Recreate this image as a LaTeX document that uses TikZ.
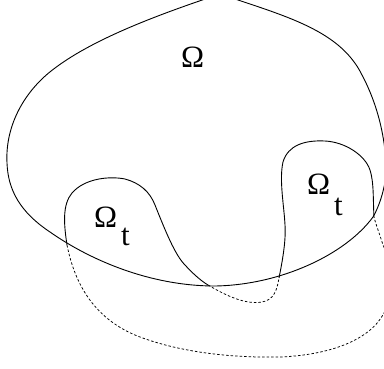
\documentclass[tikz,border=0pt]{standalone}
\usepackage{fontspec}
\newfontfamily\lab{Liberation Serif}
\tikzset{
  curve/.style={line width=0.9pt, line join=round},
  hidden/.style={line width=0.75pt, dash pattern=on 2.5pt off 2pt},
  lbl/.style={inner sep=0pt, anchor=base west, font=\lab\fontsize{31}{35}\selectfont}
}
\begin{document}
\begin{tikzpicture}[x=1pt,y=-1pt]
\useasboundingbox (0,0) rectangle (384,368);
\clip (0,0) rectangle (384,368);
% outer domain
\draw[curve] (7,163) .. controls (5,125) and (25,90) .. (55,68)
  .. controls (95,38) and (160,14) .. (220,-6)
  .. controls (285,16) and (340,30) .. (362,75)
  .. controls (378,105) and (386,140) .. (386,170)
  .. controls (386,185) and (380,205) .. (373,217)
  .. controls (345,255) and (280,285) .. (215,286)
  .. controls (150,286) and (90,260) .. (50,232)
  .. controls (20,212) and (8,190) .. (7,163);
% left Omega_t solid part
\draw[curve] (67,245) .. controls (64,225) and (62,205) .. (72,193)
  .. controls (85,178) and (110,176) .. (125,179)
  .. controls (140,183) and (150,192) .. (155,205)
  .. controls (165,230) and (175,255) .. (185,265)
  .. controls (195,276) and (203,282) .. (208,285);
% right Omega_t solid part
\draw[curve] (279,278) .. controls (283,258) and (286,240) .. (285,225)
  .. controls (284,205) and (279,180) .. (283,162)
  .. controls (288,145) and (305,140) .. (325,141)
  .. controls (345,142) and (365,155) .. (370,170)
  .. controls (374,182) and (373,200) .. (374,217);
% dashed parts outside
\draw[hidden] (208,285) .. controls (225,295) and (245,305) .. (262,302)
  .. controls (274,300) and (277,290) .. (279,278);
\draw[hidden] (67,245) .. controls (75,285) and (95,320) .. (140,337)
  .. controls (180,352) and (230,358) .. (280,357)
  .. controls (330,355) and (370,340) .. (384,313)
  .. controls (392,295) and (393,265) .. (383,245)
  .. controls (380,235) and (376,225) .. (374,217);
% labels
\node[lbl] (om) at (181,67) {Ω};
\node[lbl] (oml) at (94,227) {Ω};
\node[lbl] (tl) at (121,245) {t};
\node[lbl] (omr) at (307,194) {Ω};
\node[lbl] (tr) at (334,215) {t};
\end{tikzpicture}
\end{document}
